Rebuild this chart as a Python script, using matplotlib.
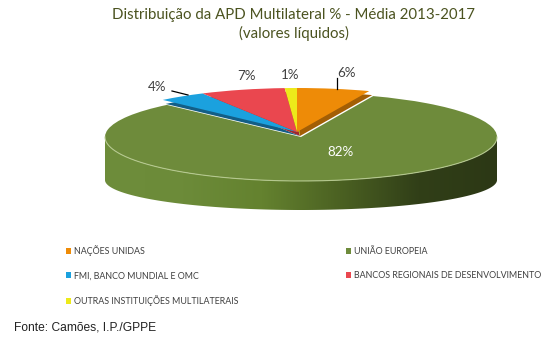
import numpy as np
import matplotlib
matplotlib.use("Agg")
import matplotlib.pyplot as plt
from matplotlib.patches import Polygon, Patch
from matplotlib.colors import LinearSegmentedColormap

# ---------------- data ----------------
categories = ["NAÇÕES UNIDAS", "UNIÃO EUROPEIA", "FMI, BANCO MUNDIAL E OMC",
              "BANCOS REGIONAIS DE DESENVOLVIMENTO", "OUTRAS INSTITUIÇÕES MULTILATERAIS"]
values = [6, 82, 4, 7, 1]
pct_labels = ["6%", "82%", "4%", "7%", "1%"]

title = "Distribuição da APD Multilateral % - Média 2013-2017\n(valores líquidos)"
source = "Fonte: Camões, I.P./GPPE"

# ---------------- style ----------------
colors = ["#EE8B07", "#6E8B3B", "#1BA1DE", "#EA474F", "#EDEA1A"]
shadow_colors = ["#A35E05", "#6E8B3B", "#135E86", "#A0282E", "#A8A510"]
big = 1  # index of the large, un-exploded slice

W, H = 555, 346
CX, CY = 301, 137      # top ellipse centre (pixels, y from top)
RX, RY = 196, 44       # top ellipse semi-axes (pixels)
BOT_DY, BOT_RY = 43, 30  # bottom ellipse: centre offset and semi-axis (pixels)

fig = plt.figure(figsize=(W / 100, H / 100), dpi=100)
ax = fig.add_axes([0, 0, 1, 1])


def px(x, y):
    """pixel (x from left, y from top) -> ellipse data units"""
    return (x - CX) / RX, (CY - y) / RY


# ---------------- top face of the large slice ----------------
green_only = [c if i == big else "none" for i, c in enumerate(colors)]
wedges_g, _ = ax.pie(values, colors=green_only, startangle=90, counterclock=False,
                     radius=1, center=(0, 0), wedgeprops=dict(linewidth=0))
for w in wedges_g:
    w.set_zorder(3)

# side of the visible front part of the large wedge
gcmap = LinearSegmentedColormap.from_list(
    "side", ["#6E8D3B", "#6C8B39", "#64822F", "#4B6122", "#313F18", "#2C3815"])
dy = BOT_DY / RY
by = BOT_RY / RY
for i, w in enumerate(wedges_g):
    if i != big:
        continue
    t1, t2 = w.theta1 % 360, w.theta2 % 360
    lo, hi = 180.0, 360.0
    if t2 < t1:
        segs = [(max(t1, lo), hi), (lo, min(t2, hi))]
    else:
        segs = [(max(t1, lo), min(t2, hi))]
    for a, b in segs:
        if b <= a:
            continue
        t = np.radians(np.linspace(a, b, 300))
        top = np.column_stack([np.cos(t), np.sin(t)])
        tr = t[::-1]
        bot = np.column_stack([np.cos(tr), -dy + by * np.sin(tr)])
        poly = Polygon(np.vstack([top, bot]), closed=True, facecolor="none",
                       edgecolor="none", zorder=1)
        ax.add_patch(poly)
        grad = np.linspace(0, 1, 256).reshape(1, -1)
        im = ax.imshow(grad, cmap=gcmap, aspect="auto",
                       extent=[np.cos(t).min(), np.cos(t).max(),
                               -dy - by - 0.1, 0.2], zorder=1,
                       interpolation="bicubic")
        im.set_clip_path(poly)
        ax.plot(np.cos(t), np.sin(t), color="#B9CC93", lw=0.8, zorder=4, alpha=0.9)

# exploded small slices: shadow (thickness) then top
others_shadow = [c if i != big else "none" for i, c in enumerate(shadow_colors)]
others_top = [c if i != big else "none" for i, c in enumerate(colors)]
sx, sy = px(300, 136)
wedges_s, _ = ax.pie(values, colors=others_shadow, startangle=90, counterclock=False,
                     radius=1, center=(sx, sy), wedgeprops=dict(linewidth=0))
tx, ty = px(297, 132)
wedges_t, _ = ax.pie(values, colors=others_top, startangle=90, counterclock=False,
                     radius=1, center=(tx, ty), wedgeprops=dict(linewidth=0))
for w in wedges_s:
    w.set_zorder(5)
for w in wedges_t:
    w.set_zorder(6)

# ---------------- labels ----------------
label_px = [(347, 73), (340, 152), (157, 87), (247, 76), (290, 75)]
label_colors = ["#404040", "white", "#404040", "#404040", "#404040"]
for lab, (lx, ly), lc in zip(pct_labels, label_px, label_colors):
    x, y = px(lx, ly)
    ax.text(x, y, lab, ha="center", va="center", fontsize=9.6, color=lc,
            family="Lato", zorder=10)
# leader lines
for (x0, y0), (x1, y1) in [((337, 78), (337, 89)), ((172, 91), (188, 95))]:
    a0 = px(x0, y0)
    a1 = px(x1, y1)
    ax.plot([a0[0], a1[0]], [a0[1], a1[1]], color="black", lw=0.9, zorder=10)

ax.set_aspect("auto")
ax.set_xlim(-CX / RX, (W - CX) / RX)
ax.set_ylim((CY - H) / RY, CY / RY)
ax.axis("off")

# ---------------- title ----------------
fig.text(293.5 / W, 1 - 8 / H, title, ha="center", va="top", fontsize=10.8,
         color="#4B5320", family="Lato", linespacing=1.3)

# ---------------- legend ----------------
order = [0, 2, 4, 1, 3]
handles = [Patch(facecolor=colors[i], edgecolor="none") for i in order]
labels = [categories[i] for i in order]
leg = fig.legend(handles, labels, ncol=2, loc="upper left",
                 bbox_to_anchor=(62 / W, 1 - 241 / H), frameon=False,
                 prop=dict(family="Lato", size=6.4), labelcolor="#404040",
                 handlelength=0.55, handleheight=0.55, handletextpad=0.35,
                 labelspacing=1.68, columnspacing=12.0, borderpad=0)

fig.text(14 / W, 1 - 327 / H, source, ha="left", va="center", fontsize=8.65,
         color="#222222", family="Liberation Sans")

fig.savefig("out.png", dpi=100)
